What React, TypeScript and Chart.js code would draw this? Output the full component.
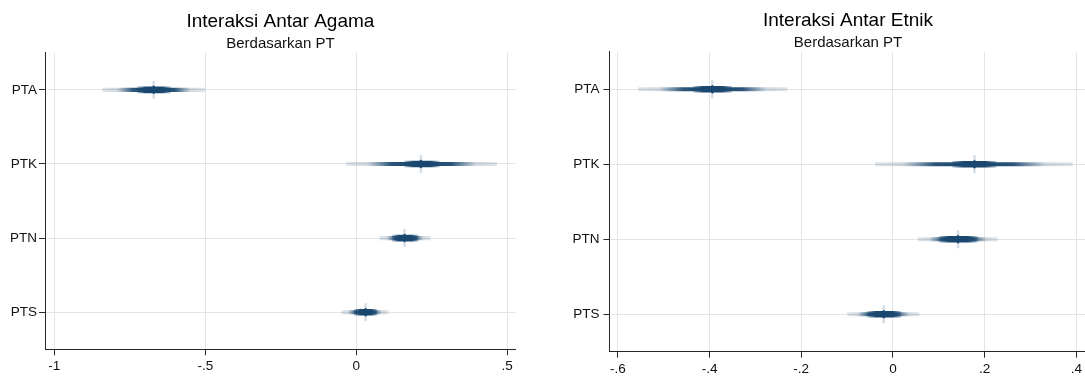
import React, { useEffect, useRef } from "react";
import { Chart, registerables } from "chart.js";

Chart.register(...registerables);

// ---------- data ----------
const categories = ["PTA", "PTK", "PTN", "PTS"];
const subtitleText = "Berdasarkan PT";

// Interaksi Antar Agama
const agamaTitle = "Interaksi Antar Agama";
const agamaEstimate = [-0.671, 0.214, 0.16, 0.031];
const agamaCiLow = [-0.84, -0.032, 0.078, -0.048];
const agamaCiHigh = [-0.501, 0.465, 0.245, 0.106];
const agamaCoreLow = [-0.725, 0.16, 0.12, -0.006];
const agamaCoreHigh = [-0.615, 0.275, 0.205, 0.068];
const agamaTicks = [-1, -0.5, 0, 0.5];
const agamaTickLabels = ["-1", "-.5", "0", ".5"];

// Interaksi Antar Etnik
const etnikTitle = "Interaksi Antar Etnik";
const etnikEstimate = [-0.394, 0.178, 0.142, -0.02];
const etnikCiLow = [-0.555, -0.038, 0.055, -0.099];
const etnikCiHigh = [-0.231, 0.392, 0.228, 0.057];
const etnikCoreLow = [-0.435, 0.13, 0.101, -0.055];
const etnikCoreHigh = [-0.352, 0.225, 0.184, 0.017];
const etnikTicks = [-0.6, -0.4, -0.2, 0, 0.2, 0.4];
const etnikTickLabels = ["-.6", "-.4", "-.2", "0", ".2", ".4"];

// ---------- styling ----------
const NAVY = "26,71,111";
const FONT = "'Liberation Sans', Arial, Helvetica, sans-serif";
const GRID = "#e4e4e4";
const AXIS = "#262626";

const ciStops: [number, number][] = [
  [0, 0.14],
  [0.14, 0.2],
  [0.22, 0.55],
  [0.3, 0.93],
  [0.5, 1],
  [0.7, 0.93],
  [0.78, 0.55],
  [0.86, 0.2],
  [1, 0.14],
];
const coreStops: [number, number][] = [
  [0, 0.3],
  [0.25, 1],
  [0.75, 1],
  [1, 0.3],
];

function gradientFill(stops: [number, number][]) {
  return (ctx: any) => {
    const fallback = `rgba(${NAVY},0.8)`;
    if (ctx.type !== "data") return fallback;
    const raw = ctx.raw as number[];
    const xs = ctx.chart.scales && ctx.chart.scales.x;
    if (!xs || !raw) return fallback;
    const x0 = xs.getPixelForValue(raw[0]);
    const x1 = xs.getPixelForValue(raw[1]);
    if (!isFinite(x0) || !isFinite(x1) || x0 === x1) return fallback;
    const g = ctx.chart.ctx.createLinearGradient(x0, 0, x1, 0);
    stops.forEach(([p, a]) => g.addColorStop(p, `rgba(${NAVY},${a})`));
    return g;
  };
}

type PanelProps = {
  title: string;
  estimate: number[];
  ciLow: number[];
  ciHigh: number[];
  coreLow: number[];
  coreHigh: number[];
  ticks: number[];
  tickLabels: string[];
  xMin: number;
  xMax: number;
  left: number;
  width: number;
  yAxisWidth: number;
  xAxisHeight: number;
  padRight: number;
  titlePadTop: number;
  labelPad: number;
};

function Panel(p: PanelProps) {
  const ref = useRef<HTMLCanvasElement | null>(null);

  useEffect(() => {
    if (!ref.current) return;
    const tickFont = { family: FONT, size: 13.5 };
    const chart = new Chart(ref.current, {
      type: "bar",
      data: {
        labels: categories,
        datasets: [
          {
            type: "scatter",
            label: "spike",
            data: categories.map((c, i) => ({ x: p.estimate[i], y: c })),
            pointStyle: "line",
            rotation: 90,
            radius: 9,
            borderWidth: 2.5,
            borderColor: `rgba(${NAVY},0.18)`,
            backgroundColor: `rgba(${NAVY},0.18)`,
            order: 3,
          } as any,
          {
            type: "bar",
            label: "ci",
            data: categories.map((_, i) => [p.ciLow[i], p.ciHigh[i]]),
            indexAxis: "y",
            grouped: false,
            barThickness: 3.5,
            borderWidth: 0,
            backgroundColor: gradientFill(ciStops),
            order: 2,
          } as any,
          {
            type: "bar",
            label: "core",
            data: categories.map((_, i) => [p.coreLow[i], p.coreHigh[i]]),
            indexAxis: "y",
            grouped: false,
            barThickness: 6,
            borderWidth: 0,
            backgroundColor: gradientFill(coreStops),
            order: 1,
          } as any,
          {
            type: "scatter",
            label: "estimate",
            data: categories.map((c, i) => ({ x: p.estimate[i], y: c })),
            pointStyle: "rectRot",
            radius: 4.5,
            borderWidth: 0,
            backgroundColor: `rgb(${NAVY})`,
            order: 0,
          } as any,
        ],
      },
      options: {
        indexAxis: "y",
        responsive: false,
        animation: false,
        events: [],
        layout: { padding: { left: 0, right: p.padRight, top: 0, bottom: 0 } },
        scales: {
          x: {
            type: "linear",
            position: "bottom",
            min: p.xMin,
            max: p.xMax,
            afterBuildTicks: (s: any) => {
              s.ticks = p.ticks.map((v) => ({ value: v }));
            },
            afterFit: (s: any) => {
              s.height = p.xAxisHeight;
            },
            ticks: {
              autoSkip: false,
              maxRotation: 0,
              padding: 3,
              color: "#111",
              font: tickFont,
              callback: (_v: any, idx: number) => p.tickLabels[idx],
            },
            grid: {
              color: GRID,
              lineWidth: 1,
              drawTicks: true,
              tickLength: 6,
              tickColor: AXIS,
              tickWidth: 1,
            },
            border: { display: true, color: AXIS, width: 1 },
          },
          y: {
            type: "category",
            position: "left",
            offset: true,
            afterFit: (s: any) => {
              s.width = p.yAxisWidth;
            },
            ticks: {
              padding: p.labelPad,
              color: "#111",
              font: tickFont,
            },
            grid: {
              offset: false,
              color: GRID,
              lineWidth: 1,
              drawTicks: true,
              tickLength: 6,
              tickColor: AXIS,
              tickWidth: 1,
            },
            border: { display: true, color: AXIS, width: 1 },
          },
        },
        plugins: {
          legend: { display: false },
          tooltip: { enabled: false },
          title: {
            display: true,
            text: p.title,
            fullSize: false,
            color: "#000",
            font: { family: FONT, size: 19, weight: "normal" },
            padding: { top: p.titlePadTop, bottom: 0 },
          },
          subtitle: {
            display: true,
            text: subtitleText,
            fullSize: false,
            color: "#111",
            font: { family: FONT, size: 15, weight: "normal" },
            padding: { top: 2, bottom: 0 },
          },
        },
      } as any,
    });
    return () => chart.destroy();
  }, []);

  return (
    <canvas
      ref={ref}
      width={p.width}
      height={389}
      style={{ position: "absolute", left: p.left, top: 0, display: "block" }}
    />
  );
}

export default function App() {
  return (
    <div
      style={{
        position: "absolute",
        left: 0,
        top: 0,
        width: 1085,
        height: 389,
        overflow: "hidden",
        background: "#fff",
      }}
    >
      <Panel
        title={agamaTitle}
        estimate={agamaEstimate}
        ciLow={agamaCiLow}
        ciHigh={agamaCiHigh}
        coreLow={agamaCoreLow}
        coreHigh={agamaCoreHigh}
        ticks={agamaTicks}
        tickLabels={agamaTickLabels}
        xMin={-1.031}
        xMax={0.5285}
        left={0}
        width={540}
        yAxisWidth={45}
        xAxisHeight={39.7}
        padRight={24.2}
        titlePadTop={10}
        labelPad={2}
      />
      <Panel
        title={etnikTitle}
        estimate={etnikEstimate}
        ciLow={etnikCiLow}
        ciHigh={etnikCiHigh}
        coreLow={etnikCoreLow}
        coreHigh={etnikCoreHigh}
        ticks={etnikTicks}
        tickLabels={etnikTickLabels}
        xMin={-0.6183}
        xMax={0.4223}
        left={545}
        width={555}
        yAxisWidth={64.5}
        xAxisHeight={37.3}
        padRight={13.5}
        titlePadTop={9}
        labelPad={4}
      />
    </div>
  );
}
